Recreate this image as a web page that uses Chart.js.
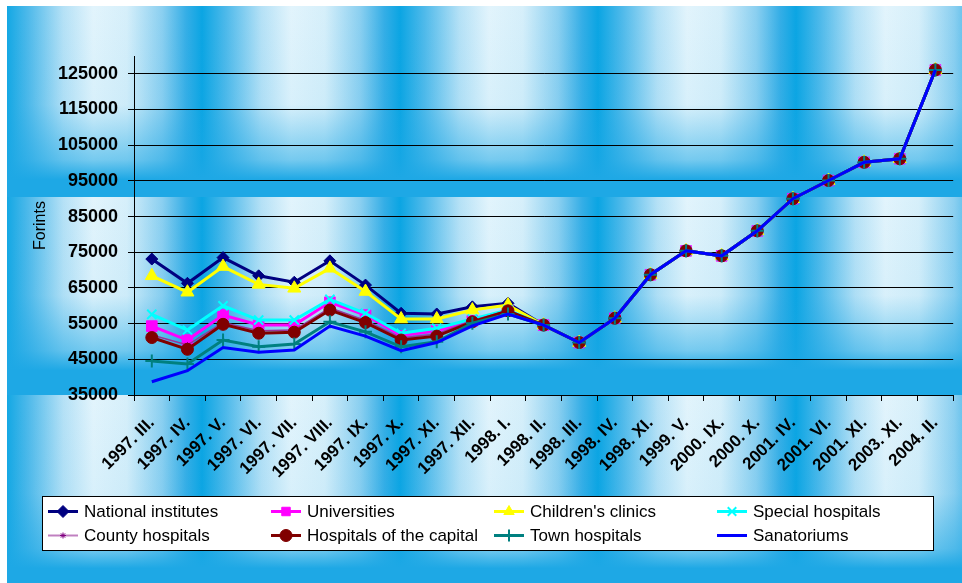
<!DOCTYPE html>
<html lang="en">
<head>
  <meta charset="UTF-8" />
  <title>Forints by institution</title>
  <script src="https://cdn.jsdelivr.net/npm/chart.js"></script>
  <style>
    body {
      margin: 0;
      background: #fff;
    }
    canvas {
      display: block;
    }
  </style>
</head>
<body>

  <canvas id="forintChart" width="962" height="583"></canvas>

  <script>
    const periods = [
      "1997. III.", "1997. IV.", "1997. V.", "1997. VI.", "1997. VII.", "1997. VIII.",
      "1997. IX.", "1997. X.", "1997. XI.", "1997. XII.", "1998. I.", "1998. II.",
      "1998. III.", "1998. IV.", "1998. XI.", "1999. V.", "2000. IX.", "2000. X.",
      "2001. IV.", "2001. VI.", "2001. XI.", "2003. XI.", "2004. II."
    ];

    const yTicks = [35000, 45000, 55000, 65000, 75000, 85000, 95000, 105000, 115000, 125000];

    // 1997. III. - 1998. I. (each series separately)
    const national = [73100, 66300, 73500, 68400, 66600, 72600, 65800, 57900, 57700, 59700, 60700];
    const universities = [54300, 50400, 57400, 54600, 54600, 61000, 57400, 51600, 53000, 55800, 58600];
    const childrens = [68400, 63800, 71000, 66000, 64900, 70500, 64000, 56300, 56300, 58800, 60200];
    const special = [57600, 53200, 60000, 56000, 56000, 61800, 57900, 52300, 53700, 56300, 58800];
    const county = [51800, 49000, 55300, 53000, 53200, 59400, 55900, 51000, 52100, 55900, 58700];
    const capital = [51100, 47800, 54800, 52300, 52600, 58800, 55300, 50400, 51500, 55500, 58600];
    const town = [44500, 43700, 50400, 48500, 49300, 55500, 52700, 48500, 49900, 55100, 57700];
    const sanatoriums = [38700, 41800, 48300, 47000, 47600, 54300, 51500, 47400, 49700, 54400, 57700];

    // 1998. II. - 2004. II. (one common figure for every institution)
    const commonTail = [54600, 49700, 56500, 68700, 75400, 74000, 81000, 90000, 95100, 100200, 101200, 126100];

    const seriesNames = [
      "National institutes", "Universities", "Children's clinics", "Special hospitals",
      "County hospitals", "Hospitals of the capital", "Town hospitals", "Sanatoriums"
    ];

    const FONT = 'Arial, "Liberation Sans", sans-serif';

    function makeSeries(i, values, color, style, radius, extra) {
      return Object.assign({
        label: seriesNames[i],
        data: values.concat(commonTail),
        borderColor: color,
        backgroundColor: color,
        borderWidth: 3,
        pointStyle: style,
        pointRadius: radius,
        pointBackgroundColor: color,
        pointBorderColor: color,
        pointBorderWidth: 1,
        tension: 0,
        order: 7 - i
      }, extra || {});
    }

    const datasets = [
      makeSeries(0, national, '#000080', 'rectRot', 6),
      makeSeries(1, universities, '#FF00FF', 'rect', 7.5),
      makeSeries(2, childrens, '#FFFF00', 'triangle', 7.5),
      makeSeries(3, special, '#00FFFF', 'crossRot', 6.5, { pointBorderWidth: 2 }),
      makeSeries(4, county, '#993399', 'star', 3, { borderWidth: 1.5, pointBorderColor: '#800080' }),
      makeSeries(5, capital, '#800000', 'circle', 6),
      makeSeries(6, town, '#008080', 'cross', 6.5, { pointBorderWidth: 2 }),
      makeSeries(7, sanatoriums, '#0000FF', 'circle', 0)
    ];

    // striped blue backdrop, three tiles stacked vertically
    const stripeBackground = {
      id: 'stripeBackground',
      beforeDraw(chart) {
        const ctx = chart.ctx;
        const w = chart.width, h = chart.height;
        const period = 198, phase = 4, reps = 7;
        const profile = [
          [0, '#0BA5E3'], [0.12, '#4DB9EA'], [0.3, '#B5E1F6'], [0.45, '#E2F4FC'],
          [0.62, '#D6EFFA'], [0.8, '#8ACFF0'], [0.92, '#35AEE6']
        ];
        ctx.save();
        ctx.fillStyle = '#fff';
        ctx.fillRect(0, 0, w, h);

        const bands = [[6, 197], [197, 395], [395, 592]];
        bands.forEach(([y0, y1]) => {
          const x0 = phase - period;
          const g = ctx.createLinearGradient(x0, 0, x0 + period * reps, 0);
          for (let k = 0; k < reps; k++) {
            profile.forEach(([t, c]) => g.addColorStop((k + t) / reps, c));
          }
          g.addColorStop(1, profile[0][1]);
          ctx.fillStyle = g;
          ctx.fillRect(7, y0, w - 7, y1 - y0);

          const fade = ctx.createLinearGradient(0, y0, 0, y0 + 197);
          fade.addColorStop(0, 'rgba(30,168,229,0)');
          fade.addColorStop(0.5, 'rgba(30,168,229,0.05)');
          fade.addColorStop(0.78, 'rgba(30,168,229,0.55)');
          fade.addColorStop(0.88, 'rgba(30,168,229,1)');
          fade.addColorStop(1, 'rgba(30,168,229,1)');
          ctx.fillStyle = fade;
          ctx.fillRect(7, y0, w - 7, y1 - y0);
        });
        ctx.restore();
      }
    };

    // boxed legend in four columns
    const boxLegend = {
      id: 'boxLegend',
      afterDraw(chart) {
        const ctx = chart.ctx;
        ctx.save();
        ctx.fillStyle = '#fff';
        ctx.fillRect(42, 496, 891, 54);
        ctx.strokeStyle = '#000';
        ctx.lineWidth = 1;
        ctx.strokeRect(42.5, 496.5, 891, 54);

        ctx.font = '17px ' + FONT;
        ctx.textBaseline = 'middle';
        chart.data.datasets.forEach((ds, i) => {
          const x = 48 + (i % 4) * 223;
          const y = 511.5 + Math.floor(i / 4) * 24;
          ctx.strokeStyle = i === 4 ? '#C080C0' : ds.borderColor;
          ctx.lineWidth = i === 4 ? 2 : 3;
          ctx.beginPath();
          ctx.moveTo(x, y);
          ctx.lineTo(x + 30, y);
          ctx.stroke();
          if (ds.pointRadius > 0) {
            ctx.fillStyle = ds.pointBackgroundColor;
            ctx.strokeStyle = ds.pointBorderColor;
            ctx.lineWidth = ds.pointBorderWidth;
            Chart.helpers.drawPoint(ctx, {
              pointStyle: ds.pointStyle,
              radius: Math.min(ds.pointRadius, 6),
              rotation: 0,
              borderWidth: ds.pointBorderWidth
            }, x + 15, y);
          }
          ctx.fillStyle = '#000';
          ctx.fillText(ds.label, x + 36, y + 1);
        });
        ctx.restore();
      }
    };

    const ctx = document.getElementById('forintChart').getContext('2d');

    new Chart(ctx, {
      type: 'line',
      data: {
        labels: periods,
        datasets: datasets
      },
      options: {
        responsive: false,
        animation: false,
        layout: {
          padding: { left: 0, top: 56, right: 6, bottom: 0 }
        },
        plugins: {
          legend: { display: false },
          tooltip: { enabled: false }
        },
        scales: {
          x: {
            offset: true,
            grid: {
              offset: true,
              drawOnChartArea: false,
              drawTicks: true,
              tickLength: 6,
              color: '#000'
            },
            border: { color: '#000', width: 1 },
            ticks: {
              autoSkip: false,
              minRotation: 45,
              maxRotation: 45,
              padding: 12,
              color: '#000',
              font: { family: FONT, size: 17, weight: 'bold' }
            },
            afterFit(scale) { scale.height = 188; }
          },
          y: {
            min: 35000,
            max: 130000,
            afterBuildTicks(scale) {
              scale.ticks = yTicks.map(v => ({ value: v }));
            },
            ticks: {
              padding: 10,
              color: '#000',
              font: { family: FONT, size: 18, weight: 'bold' },
              callback: v => String(v)
            },
            grid: { color: '#000', lineWidth: 1, tickLength: 6 },
            border: { color: '#000', width: 1 },
            title: {
              display: true,
              text: 'Forints',
              color: '#000',
              font: { family: FONT, size: 16 },
              padding: { top: 31, bottom: 0 }
            },
            afterFit(scale) { scale.width = 134; }
          }
        }
      },
      plugins: [stripeBackground, boxLegend]
    });
  </script>

</body>
</html>
